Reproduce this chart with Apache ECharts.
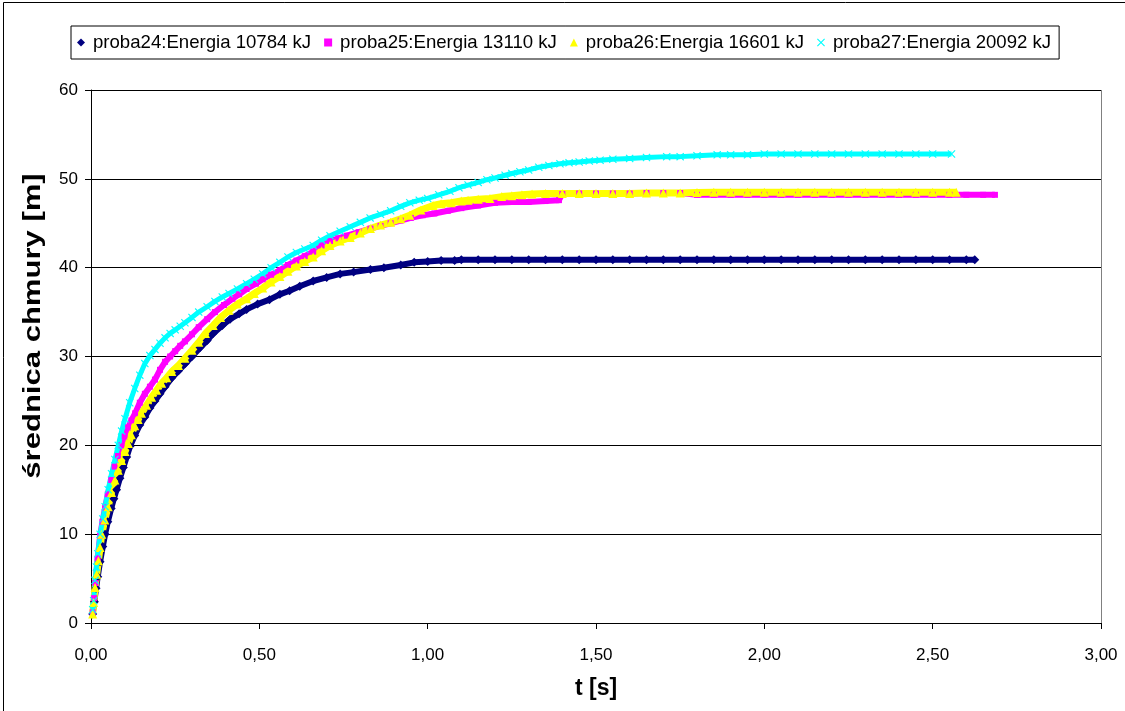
<!DOCTYPE html>
<html>
<head>
<meta charset="utf-8">
<script src="https://cdn.jsdelivr.net/npm/echarts@6/dist/echarts.min.js"></script>
<style>
html,body{margin:0;padding:0;background:#fff;}
#chart{width:1125px;height:711px;}
</style>
</head>
<body>
<div id="chart"></div>
<script>
const seriesNames = [
  'proba24:Energia 10784 kJ',
  'proba25:Energia 13110 kJ',
  'proba26:Energia 16601 kJ',
  'proba27:Energia 20092 kJ'
];
const xTicks = [0, 0.5, 1, 1.5, 2, 2.5, 3];
const yTicks = [0, 10, 20, 30, 40, 50, 60];
const xTitle = 't [s]';
const yTitle = 'średnica chmury [m]';

const p24 = [[0.005,1.0],[0.010,2.4],[0.015,3.9],[0.020,5.2],[0.027,6.9],[0.035,8.6],[0.042,10.0],[0.050,11.4],[0.060,12.9],[0.068,14.0],[0.076,15.0],[0.086,16.3],[0.096,17.5],[0.106,18.7],[0.116,19.9],[0.130,21.1],[0.145,22.3],[0.160,23.2],[0.175,24.2],[0.190,25.0],[0.205,25.8],[0.220,26.6],[0.240,27.6],[0.260,28.4],[0.280,29.2],[0.300,30.0],[0.324,31.0],[0.345,31.8],[0.363,32.6],[0.390,33.5],[0.413,34.2],[0.440,34.8],[0.462,35.3],[0.495,35.9],[0.530,36.4],[0.561,37.0],[0.590,37.4],[0.620,37.9],[0.660,38.5],[0.700,38.9],[0.740,39.3],[0.780,39.5],[0.830,39.8],[0.870,40.0],[0.920,40.3],[0.960,40.6],[1.000,40.7],[1.040,40.8],[1.080,40.8],[1.100,40.9],[1.15,40.9],[1.20,40.9],[1.25,40.9],[1.30,40.9],[1.35,40.9],[1.40,40.9],[1.45,40.9],[1.50,40.9],[1.55,40.9],[1.60,40.9],[1.65,40.9],[1.70,40.9],[1.75,40.9],[1.80,40.9],[1.85,40.9],[1.90,40.9],[1.95,40.9],[2.00,40.9],[2.05,40.9],[2.10,40.9],[2.15,40.9],[2.20,40.9],[2.25,40.9],[2.30,40.9],[2.35,40.9],[2.40,40.9],[2.45,40.9],[2.50,40.9],[2.55,40.9],[2.60,40.9],[2.625,40.9]];

const p25 = [[0.005,1.2],[0.009,2.8],[0.013,4.5],[0.020,7.3],[0.027,9.8],[0.034,11.4],[0.042,13.0],[0.050,14.5],[0.060,16.1],[0.070,17.6],[0.080,18.8],[0.091,20.0],[0.100,21.0],[0.110,22.0],[0.120,22.8],[0.131,23.6],[0.145,24.8],[0.160,25.8],[0.175,26.6],[0.190,27.4],[0.205,28.5],[0.220,29.4],[0.235,30.0],[0.250,30.6],[0.265,31.2],[0.279,31.7],[0.300,32.5],[0.320,33.3],[0.345,34.2],[0.368,35.0],[0.395,35.8],[0.420,36.5],[0.440,37.0],[0.462,37.6],[0.490,38.2],[0.510,38.7],[0.535,39.2],[0.561,39.7],[0.585,40.3],[0.610,40.8],[0.635,41.3],[0.660,41.8],[0.685,42.5],[0.710,43.0],[0.735,43.3],[0.760,43.6],[0.795,44.0],[0.830,44.4],[0.860,44.7],[0.890,45.0],[0.920,45.3],[0.950,45.6],[0.985,45.9],[1.020,46.1],[1.060,46.4],[1.100,46.7],[1.150,47.0],[1.200,47.3],[1.250,47.4],[1.300,47.4],[1.350,47.5],[1.390,47.6],[1.400,48.3],[1.45,48.35],[1.50,48.35],[1.55,48.35],[1.60,48.35],[1.65,48.4],[1.70,48.4],[1.75,48.4],[1.80,48.2],[1.85,48.2],[1.90,48.2],[1.95,48.2],[2.00,48.2],[2.05,48.2],[2.10,48.2],[2.15,48.2],[2.20,48.2],[2.25,48.2],[2.30,48.2],[2.35,48.2],[2.40,48.2],[2.45,48.2],[2.50,48.2],[2.55,48.2],[2.60,48.2],[2.65,48.2],[2.685,48.2]];

const p26 = [[0.005,1.0],[0.008,2.3],[0.012,4.0],[0.017,5.5],[0.022,7.0],[0.027,8.5],[0.032,10.0],[0.041,11.6],[0.051,13.1],[0.061,14.7],[0.071,16.1],[0.081,17.2],[0.091,18.3],[0.101,19.3],[0.111,20.2],[0.120,21.2],[0.130,22.2],[0.140,22.9],[0.150,23.6],[0.165,24.5],[0.180,25.4],[0.195,26.2],[0.210,27.0],[0.225,27.6],[0.240,28.3],[0.260,29.0],[0.279,29.8],[0.300,30.7],[0.320,31.6],[0.340,32.6],[0.363,33.5],[0.385,34.4],[0.410,35.2],[0.435,35.9],[0.462,36.5],[0.485,37.1],[0.510,37.7],[0.535,38.4],[0.561,39.0],[0.585,39.6],[0.610,40.2],[0.635,40.7],[0.660,41.2],[0.685,41.9],[0.710,42.5],[0.740,43.0],[0.770,43.4],[0.800,43.9],[0.830,44.4],[0.860,44.8],[0.890,45.1],[0.920,45.5],[0.947,45.9],[0.980,46.5],[1.016,47.0],[1.040,47.2],[1.070,47.3],[1.100,47.5],[1.120,47.6],[1.150,47.7],[1.185,47.8],[1.220,48.0],[1.250,48.1],[1.280,48.2],[1.310,48.3],[1.35,48.35],[1.40,48.35],[1.45,48.35],[1.50,48.35],[1.55,48.35],[1.60,48.35],[1.65,48.4],[1.70,48.4],[1.75,48.4],[1.80,48.45],[1.85,48.5],[1.90,48.5],[1.95,48.5],[2.00,48.5],[2.05,48.5],[2.10,48.5],[2.15,48.5],[2.20,48.5],[2.25,48.5],[2.30,48.5],[2.35,48.5],[2.40,48.5],[2.45,48.5],[2.50,48.5],[2.55,48.5],[2.57,48.5]];

const p27 = [[0.005,1.5],[0.008,2.5],[0.012,4.8],[0.016,6.3],[0.020,7.8],[0.027,10.0],[0.035,11.7],[0.042,13.1],[0.051,15.0],[0.061,16.8],[0.071,18.4],[0.081,20.0],[0.091,21.6],[0.101,23.0],[0.115,24.8],[0.130,26.4],[0.145,27.9],[0.160,29.2],[0.175,30.1],[0.190,30.8],[0.205,31.5],[0.220,32.1],[0.235,32.6],[0.250,33.0],[0.265,33.4],[0.279,33.8],[0.300,34.4],[0.320,35.0],[0.345,35.6],[0.368,36.2],[0.390,36.7],[0.410,37.1],[0.435,37.6],[0.462,38.2],[0.485,38.7],[0.510,39.3],[0.535,40.0],[0.561,40.6],[0.585,41.2],[0.610,41.7],[0.635,42.1],[0.660,42.5],[0.685,43.1],[0.710,43.6],[0.740,44.1],[0.770,44.6],[0.800,45.1],[0.829,45.6],[0.860,46.0],[0.890,46.4],[0.920,46.9],[0.947,47.3],[0.975,47.6],[1.000,47.8],[1.033,48.2],[1.066,48.6],[1.093,49.0],[1.120,49.3],[1.150,49.6],[1.176,49.9],[1.200,50.1],[1.230,50.4],[1.250,50.6],[1.274,50.8],[1.300,51.0],[1.330,51.3],[1.360,51.5],[1.393,51.7],[1.420,51.8],[1.450,51.9],[1.480,52.0],[1.512,52.1],[1.55,52.2],[1.60,52.3],[1.65,52.4],[1.71,52.5],[1.75,52.5],[1.80,52.6],[1.86,52.7],[1.90,52.7],[1.95,52.7],[2.00,52.8],[2.05,52.8],[2.10,52.8],[2.15,52.8],[2.20,52.8],[2.25,52.8],[2.30,52.8],[2.35,52.8],[2.40,52.8],[2.45,52.8],[2.50,52.8],[2.556,52.8]];

const colors = ['#000080', '#FF00FF', '#FFFF00', '#00FFFF'];
const xMark = 'path://M0,1L1,0L5,4L9,0L10,1L6,5L10,9L9,10L5,6L1,10L0,9L4,5Z';
const symbols = ['diamond', 'rect', 'triangle', xMark];
const symSizes = [9, 6, 9, 8];
const lineWidths = [6, 6, 7, 5];
const dataSets = [p24, p25, p26, p27];

const FONT = '"Liberation Sans", Arial, sans-serif';
const chart = echarts.init(document.getElementById('chart'), null, {renderer: 'canvas'});

const series = dataSets.map((d, i) => ({
  name: seriesNames[i],
  type: 'line',
  data: d,
  symbol: symbols[i],
  symbolSize: symSizes[i],
  showSymbol: true,
  showAllSymbol: true,
  animation: false,
  itemStyle: {color: colors[i]},
  lineStyle: {color: colors[i], width: lineWidths[i]},
  emphasis: {disabled: true}
}));

chart.setOption({
  backgroundColor: '#ffffff',
  animation: false,
  textStyle: {fontFamily: FONT},
  graphic: [{
    type: 'rect', silent: true,
    shape: {x: 3.5, y: 2.5, width: 1300, height: 900},
    style: {fill: 'none', stroke: '#000', lineWidth: 1}
  }, {
    type: 'text', silent: true,
    x: 34, y: 326, rotation: Math.PI / 2, scaleX: 1.35, scaleY: 1,
    style: {text: yTitle, font: 'bold 23px "Liberation Sans", Arial, sans-serif',
      fill: '#000', align: 'center', verticalAlign: 'middle'}
  }],
  legend: {
    left: 71, top: 26,
    orient: 'horizontal',
    padding: [7, 8, 7, 6],
    itemGap: 13,
    itemWidth: 8, itemHeight: 8,
    borderColor: '#000', borderWidth: 1,
    backgroundColor: '#fff',
    textStyle: {fontSize: 18.6, color: '#000', fontFamily: FONT, padding: [0,0,0,3]},
    data: seriesNames.map((n, i) => ({name: n, icon: symbols[i], itemStyle: {color: colors[i]}}))
  },
  grid: {left: 91, right: 24, top: 90, bottom: 88, containLabel: false},
  xAxis: {
    type: 'value', min: xTicks[0], max: xTicks[xTicks.length - 1], interval: 0.5,
    name: xTitle, nameLocation: 'middle', nameGap: 54,
    nameTextStyle: {fontSize: 23, fontWeight: 'bold', color: '#000', fontFamily: FONT},
    axisLine: {show: true, onZero: false, lineStyle: {color: '#000', width: 1}},
    axisTick: {show: true, inside: false, length: 6, lineStyle: {color: '#000'}},
    axisLabel: {fontSize: 17, color: '#000', margin: 24, fontFamily: FONT,
      formatter: v => v.toFixed(2).replace('.', ',')},
    splitLine: {show: false}
  },
  yAxis: {
    type: 'value', min: yTicks[0], max: yTicks[yTicks.length - 1], interval: 10,
    axisLine: {show: true, lineStyle: {color: '#000', width: 1}},
    axisTick: {show: true, inside: false, length: 6, lineStyle: {color: '#000'}},
    axisLabel: {fontSize: 17, color: '#000', margin: 13, fontFamily: FONT},
    splitLine: {show: true, lineStyle: {color: '#000', width: 1}}
  },
  series: series.concat([{
    type: 'line', silent: true, data: [],
    markLine: {
      silent: true, symbol: 'none', animation: false,
      lineStyle: {color: '#808080', width: 1, type: 'solid'},
      label: {show: false},
      data: [{xAxis: xTicks[xTicks.length - 1]}]
    }
  }])
});
</script>
</body>
</html>
